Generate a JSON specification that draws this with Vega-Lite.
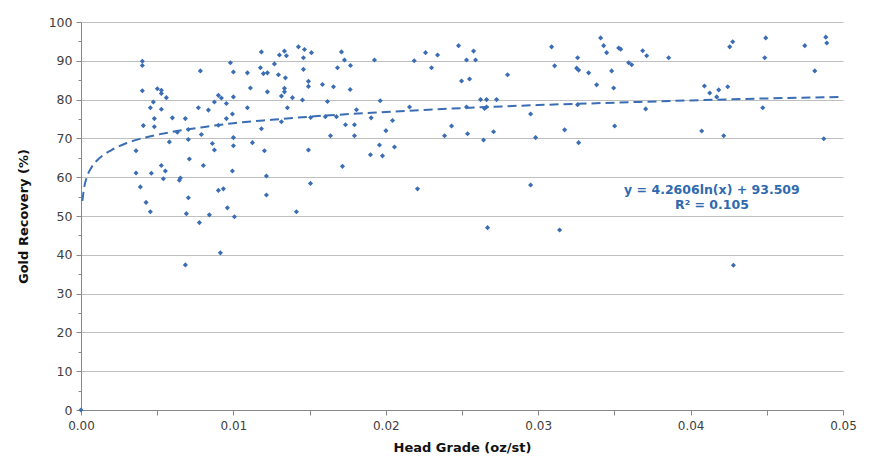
{
  "$schema": "https://vega.github.io/schema/vega-lite/v6.json",
  "width": 762,
  "height": 388,
  "autosize": {"type": "none"},
  "padding": {"left": 81, "top": 22, "right": 35, "bottom": 63},
  "background": "white",
  "config": {
    "view": {"stroke": null},
    "font": "DejaVu Sans"
  },
  "data": {
    "values": [
      {"grade": 0, "recovery": 0},
      {"grade": 0.004025, "recovery": 89.9},
      {"grade": 0.004025, "recovery": 88.8},
      {"grade": 0.004025, "recovery": 82.3},
      {"grade": 0.004091, "recovery": 73.3},
      {"grade": 0.003611, "recovery": 66.8},
      {"grade": 0.003611, "recovery": 61.1},
      {"grade": 0.003894, "recovery": 57.5},
      {"grade": 0.004268, "recovery": 53.5},
      {"grade": 0.00455, "recovery": 51.1},
      {"grade": 0.004616, "recovery": 61.0},
      {"grade": 0.00455, "recovery": 77.9},
      {"grade": 0.004747, "recovery": 79.4},
      {"grade": 0.004813, "recovery": 75.1},
      {"grade": 0.004813, "recovery": 73.0},
      {"grade": 0.00501, "recovery": 82.8},
      {"grade": 0.005272, "recovery": 82.4},
      {"grade": 0.005272, "recovery": 81.6},
      {"grade": 0.005272, "recovery": 77.5},
      {"grade": 0.005272, "recovery": 63.0},
      {"grade": 0.005404, "recovery": 59.6},
      {"grade": 0.005535, "recovery": 61.6},
      {"grade": 0.005601, "recovery": 80.5},
      {"grade": 0.005798, "recovery": 69.1},
      {"grade": 0.005995, "recovery": 75.3},
      {"grade": 0.006323, "recovery": 71.6},
      {"grade": 0.006454, "recovery": 59.2},
      {"grade": 0.00652, "recovery": 59.8},
      {"grade": 0.006848, "recovery": 75.1},
      {"grade": 0.006914, "recovery": 50.6},
      {"grade": 0.007045, "recovery": 72.3},
      {"grade": 0.007045, "recovery": 69.7},
      {"grade": 0.007111, "recovery": 64.7},
      {"grade": 0.007045, "recovery": 54.7},
      {"grade": 0.006848, "recovery": 37.4},
      {"grade": 0.007702, "recovery": 77.9},
      {"grade": 0.007833, "recovery": 87.4},
      {"grade": 0.007768, "recovery": 48.3},
      {"grade": 0.007899, "recovery": 71.0},
      {"grade": 0.00803, "recovery": 63.0},
      {"grade": 0.008424, "recovery": 50.3},
      {"grade": 0.008359, "recovery": 77.3},
      {"grade": 0.008621, "recovery": 68.7},
      {"grade": 0.008753, "recovery": 67.0},
      {"grade": 0.008753, "recovery": 79.4},
      {"grade": 0.009015, "recovery": 81.1},
      {"grade": 0.009212, "recovery": 80.4},
      {"grade": 0.009015, "recovery": 56.6},
      {"grade": 0.009343, "recovery": 57.0},
      {"grade": 0.009015, "recovery": 73.4},
      {"grade": 0.009146, "recovery": 40.5},
      {"grade": 0.00954, "recovery": 79.0},
      {"grade": 0.00954, "recovery": 75.1},
      {"grade": 0.009606, "recovery": 52.1},
      {"grade": 0.009803, "recovery": 89.5},
      {"grade": 0.01, "recovery": 87.1},
      {"grade": 0.01, "recovery": 80.7},
      {"grade": 0.009934, "recovery": 76.3},
      {"grade": 0.01, "recovery": 70.2},
      {"grade": 0.01, "recovery": 68.1},
      {"grade": 0.009934, "recovery": 61.6},
      {"grade": 0.010066, "recovery": 49.8},
      {"grade": 0.010919, "recovery": 86.9},
      {"grade": 0.010919, "recovery": 77.9},
      {"grade": 0.011116, "recovery": 83.0},
      {"grade": 0.011248, "recovery": 68.9},
      {"grade": 0.011838, "recovery": 92.3},
      {"grade": 0.011773, "recovery": 88.2},
      {"grade": 0.01197, "recovery": 86.7},
      {"grade": 0.012232, "recovery": 86.9},
      {"grade": 0.011838, "recovery": 72.5},
      {"grade": 0.012035, "recovery": 66.8},
      {"grade": 0.012167, "recovery": 60.3},
      {"grade": 0.012167, "recovery": 55.4},
      {"grade": 0.012232, "recovery": 82.0},
      {"grade": 0.012692, "recovery": 89.2},
      {"grade": 0.012955, "recovery": 86.4},
      {"grade": 0.01302, "recovery": 91.5},
      {"grade": 0.013349, "recovery": 92.5},
      {"grade": 0.01348, "recovery": 91.3},
      {"grade": 0.013414, "recovery": 85.6},
      {"grade": 0.013349, "recovery": 82.9},
      {"grade": 0.013349, "recovery": 82.0},
      {"grade": 0.013152, "recovery": 80.9},
      {"grade": 0.013152, "recovery": 74.3},
      {"grade": 0.013545, "recovery": 77.9},
      {"grade": 0.013874, "recovery": 80.5},
      {"grade": 0.014136, "recovery": 51.1},
      {"grade": 0.014268, "recovery": 93.6},
      {"grade": 0.014662, "recovery": 92.9},
      {"grade": 0.015122, "recovery": 92.1},
      {"grade": 0.014596, "recovery": 90.8},
      {"grade": 0.014596, "recovery": 87.8},
      {"grade": 0.014924, "recovery": 84.7},
      {"grade": 0.014924, "recovery": 83.4},
      {"grade": 0.015844, "recovery": 83.9},
      {"grade": 0.016566, "recovery": 83.3},
      {"grade": 0.014531, "recovery": 79.9},
      {"grade": 0.016172, "recovery": 79.5},
      {"grade": 0.017662, "recovery": 82.6},
      {"grade": 0.017091, "recovery": 92.3},
      {"grade": 0.017288, "recovery": 90.2},
      {"grade": 0.016829, "recovery": 88.2},
      {"grade": 0.017682, "recovery": 88.8},
      {"grade": 0.019258, "recovery": 90.2},
      {"grade": 0.021865, "recovery": 90.0},
      {"grade": 0.019632, "recovery": 79.7},
      {"grade": 0.018076, "recovery": 77.4},
      {"grade": 0.019041, "recovery": 75.3},
      {"grade": 0.021556, "recovery": 78.1},
      {"grade": 0.02044, "recovery": 74.6},
      {"grade": 0.017354, "recovery": 73.5},
      {"grade": 0.017945, "recovery": 73.5},
      {"grade": 0.020007, "recovery": 72.0},
      {"grade": 0.016369, "recovery": 70.7},
      {"grade": 0.017945, "recovery": 70.7},
      {"grade": 0.019586, "recovery": 68.3},
      {"grade": 0.020571, "recovery": 67.8},
      {"grade": 0.018995, "recovery": 65.8},
      {"grade": 0.019783, "recovery": 65.5},
      {"grade": 0.014924, "recovery": 67.0},
      {"grade": 0.017157, "recovery": 62.8},
      {"grade": 0.015056, "recovery": 58.4},
      {"grade": 0.022081, "recovery": 57.0},
      {"grade": 0.015069, "recovery": 75.4},
      {"grade": 0.016034, "recovery": 75.6},
      {"grade": 0.016763, "recovery": 75.6},
      {"grade": 0.022607, "recovery": 92.1},
      {"grade": 0.023, "recovery": 88.2},
      {"grade": 0.023395, "recovery": 91.5},
      {"grade": 0.023854, "recovery": 70.7},
      {"grade": 0.024314, "recovery": 73.2},
      {"grade": 0.024773, "recovery": 93.9},
      {"grade": 0.02497, "recovery": 84.8},
      {"grade": 0.025299, "recovery": 90.2},
      {"grade": 0.025496, "recovery": 85.3},
      {"grade": 0.025759, "recovery": 92.5},
      {"grade": 0.02589, "recovery": 90.2},
      {"grade": 0.025299, "recovery": 78.1},
      {"grade": 0.025365, "recovery": 71.2},
      {"grade": 0.026218, "recovery": 80.0},
      {"grade": 0.026612, "recovery": 80.0},
      {"grade": 0.027269, "recovery": 80.0},
      {"grade": 0.026481, "recovery": 77.7},
      {"grade": 0.026612, "recovery": 78.1},
      {"grade": 0.026415, "recovery": 69.6},
      {"grade": 0.027071, "recovery": 71.7},
      {"grade": 0.027991, "recovery": 86.4},
      {"grade": 0.026678, "recovery": 47.0},
      {"grade": 0.029501, "recovery": 76.3},
      {"grade": 0.029829, "recovery": 70.2},
      {"grade": 0.029501, "recovery": 58.0},
      {"grade": 0.03088, "recovery": 93.6},
      {"grade": 0.031077, "recovery": 88.7},
      {"grade": 0.031734, "recovery": 72.2},
      {"grade": 0.031405, "recovery": 46.4},
      {"grade": 0.032587, "recovery": 90.8},
      {"grade": 0.032522, "recovery": 88.1},
      {"grade": 0.032653, "recovery": 87.6},
      {"grade": 0.032587, "recovery": 78.7},
      {"grade": 0.032653, "recovery": 68.9},
      {"grade": 0.034097, "recovery": 95.9},
      {"grade": 0.034294, "recovery": 93.9},
      {"grade": 0.034491, "recovery": 92.1},
      {"grade": 0.035279, "recovery": 93.3},
      {"grade": 0.035411, "recovery": 93.0},
      {"grade": 0.033309, "recovery": 86.9},
      {"grade": 0.033834, "recovery": 83.8},
      {"grade": 0.03482, "recovery": 87.4},
      {"grade": 0.034951, "recovery": 83.0},
      {"grade": 0.035017, "recovery": 73.2},
      {"grade": 0.035936, "recovery": 89.5},
      {"grade": 0.036133, "recovery": 89.0},
      {"grade": 0.036855, "recovery": 92.6},
      {"grade": 0.037118, "recovery": 91.3},
      {"grade": 0.037052, "recovery": 77.6},
      {"grade": 0.038562, "recovery": 90.8},
      {"grade": 0.040906, "recovery": 83.5},
      {"grade": 0.041254, "recovery": 81.7},
      {"grade": 0.041714, "recovery": 80.7},
      {"grade": 0.041845, "recovery": 82.5},
      {"grade": 0.042436, "recovery": 83.3},
      {"grade": 0.040729, "recovery": 71.9},
      {"grade": 0.042173, "recovery": 70.7},
      {"grade": 0.042567, "recovery": 93.6},
      {"grade": 0.042764, "recovery": 94.9},
      {"grade": 0.04281, "recovery": 37.3},
      {"grade": 0.044734, "recovery": 77.9},
      {"grade": 0.044931, "recovery": 95.9},
      {"grade": 0.044865, "recovery": 90.8},
      {"grade": 0.047492, "recovery": 93.9},
      {"grade": 0.048148, "recovery": 87.4},
      {"grade": 0.048871, "recovery": 96.1},
      {"grade": 0.048936, "recovery": 94.6},
      {"grade": 0.048739, "recovery": 69.9}
    ]
  },
  "encoding": {
    "x": {
      "field": "grade",
      "type": "quantitative",
      "scale": {"domain": [0, 0.05], "nice": false, "zero": false},
      "axis": {
        "title": "Head Grade (oz/st)",
        "titleFont": "DejaVu Sans",
        "titleFontSize": 13,
        "titleFontWeight": "bold",
        "titleColor": "#111111",
        "titlePadding": 10,
        "values": [0, 0.005, 0.01, 0.015, 0.02, 0.025, 0.03, 0.035, 0.04, 0.045, 0.05],
        "labelExpr": "abs(round(datum.value*1000) % 10) < 0.5 ? format(datum.value, '.2f') : ''",
        "labelFontSize": 12,
        "labelColor": "#404040",
        "labelPadding": 5,
        "labelFlush": false,
        "grid": false,
        "domainColor": "#888888",
        "tickColor": "#888888",
        "tickSize": 5
      }
    },
    "y": {
      "field": "recovery",
      "type": "quantitative",
      "scale": {"domain": [0, 100], "nice": false},
      "axis": {
        "title": "Gold Recovery (%)",
        "titleFont": "DejaVu Sans",
        "titleFontSize": 13,
        "titleFontWeight": "bold",
        "titleColor": "#111111",
        "titlePadding": 18,
        "values": [0, 5, 10, 15, 20, 25, 30, 35, 40, 45, 50, 55, 60, 65, 70, 75, 80, 85, 90, 95, 100],
        "labelExpr": "datum.value % 10 === 0 ? datum.label : ''",
        "labelFontSize": 12.5,
        "labelColor": "#404040",
        "labelPadding": 4,
        "grid": true,
        "gridColor": "#BFBFBF",
        "gridWidth": 1.2,
        "gridOpacity": {"condition": {"test": "datum.value % 10 === 0", "value": 1}, "value": 0},
        "tickSize": {"condition": {"test": "datum.value % 10 === 0", "value": 5}, "value": 3},
        "domainColor": "#888888",
        "tickColor": "#888888"
      }
    }
  },
  "layer": [
    {
      "mark": {"type": "point", "shape": "diamond", "filled": true, "size": 26, "color": "#3A6DB3", "opacity": 1}
    },
    {
      "data": {
        "values": [
          {"grade": 0.00009, "recovery": 53.9},
          {"grade": 0.0002, "recovery": 57.2},
          {"grade": 0.0004, "recovery": 60.2},
          {"grade": 0.0007, "recovery": 62.6},
          {"grade": 0.001, "recovery": 64.1},
          {"grade": 0.0015, "recovery": 65.8},
          {"grade": 0.002, "recovery": 67.0},
          {"grade": 0.003, "recovery": 68.8},
          {"grade": 0.004, "recovery": 70.0},
          {"grade": 0.006, "recovery": 71.7},
          {"grade": 0.008, "recovery": 72.9},
          {"grade": 0.01, "recovery": 73.9},
          {"grade": 0.0125, "recovery": 74.8},
          {"grade": 0.015, "recovery": 75.6},
          {"grade": 0.02, "recovery": 76.8},
          {"grade": 0.025, "recovery": 77.8},
          {"grade": 0.03, "recovery": 78.6},
          {"grade": 0.035, "recovery": 79.2},
          {"grade": 0.04, "recovery": 79.8},
          {"grade": 0.045, "recovery": 80.3},
          {"grade": 0.05, "recovery": 80.7}
        ]
      },
      "mark": {"type": "line", "color": "#3A6DB3", "strokeWidth": 2, "strokeDash": [9, 5], "interpolate": "monotone", "clip": true},
      "encoding": {}
    },
    {
      "data": {"values": [{"grade": 0.0414, "recovery": 56.6, "label": ["y = 4.2606ln(x) + 93.509", "R² = 0.105"]}]},
      "mark": {"type": "text", "align": "center", "baseline": "middle", "font": "DejaVu Sans", "fontSize": 12.5, "fontWeight": "bold", "color": "#2F6AAE", "lineHeight": 15},
      "encoding": {"text": {"field": "label"}}
    }
  ]
}
